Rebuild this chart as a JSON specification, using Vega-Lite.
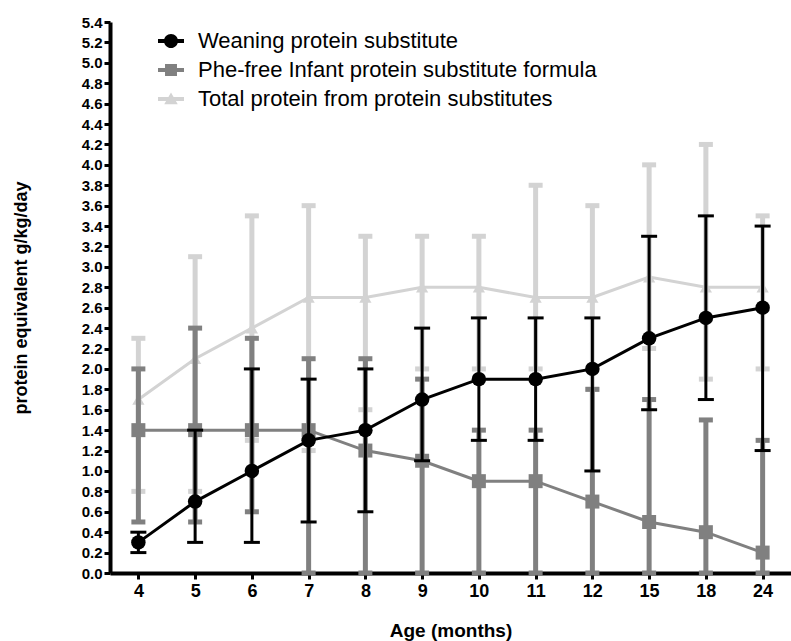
{
  "$schema": "https://vega.github.io/schema/vega-lite/v6.json",
  "width": 681,
  "height": 551,
  "autosize": {"type": "none"},
  "padding": {"left": 110, "top": 22, "right": 0, "bottom": 68},
  "background": "#ffffff",
  "config": {
    "view": {"stroke": null},
    "font": "Liberation Sans",
    "axis": {
      "domainColor": "#000000",
      "domainWidth": 4,
      "tickColor": "#000000",
      "tickWidth": 3,
      "labelColor": "#000000",
      "labelFont": "Liberation Sans",
      "labelFontWeight": "bold",
      "titleFont": "Liberation Sans",
      "titleFontWeight": "bold",
      "titleColor": "#000000",
      "grid": false
    },
    "axisY": {"labelFontSize": 15, "tickSize": 6, "labelPadding": 2, "titleFontSize": 18, "titlePadding": 51},
    "axisX": {"labelFontSize": 18, "tickSize": 6, "labelPadding": 3, "labelAngle": 0, "titleFontSize": 19, "titlePadding": 21}
  },
  "data": {
    "values": [
      {"age": 4, "series": "Total protein from protein substitutes", "m": 1.7, "lo": 0.8, "hi": 2.3},
      {"age": 5, "series": "Total protein from protein substitutes", "m": 2.1, "lo": 0.8, "hi": 3.1},
      {"age": 6, "series": "Total protein from protein substitutes", "m": 2.4, "lo": 1.3, "hi": 3.5},
      {"age": 7, "series": "Total protein from protein substitutes", "m": 2.7, "lo": 1.2, "hi": 3.6},
      {"age": 8, "series": "Total protein from protein substitutes", "m": 2.7, "lo": 1.6, "hi": 3.3},
      {"age": 9, "series": "Total protein from protein substitutes", "m": 2.8, "lo": 2.0, "hi": 3.3},
      {"age": 10, "series": "Total protein from protein substitutes", "m": 2.8, "lo": 2.0, "hi": 3.3},
      {"age": 11, "series": "Total protein from protein substitutes", "m": 2.7, "lo": 2.0, "hi": 3.8},
      {"age": 12, "series": "Total protein from protein substitutes", "m": 2.7, "lo": 1.8, "hi": 3.6},
      {"age": 15, "series": "Total protein from protein substitutes", "m": 2.9, "lo": 2.2, "hi": 4.0},
      {"age": 18, "series": "Total protein from protein substitutes", "m": 2.8, "lo": 1.9, "hi": 4.2},
      {"age": 24, "series": "Total protein from protein substitutes", "m": 2.8, "lo": 2.0, "hi": 3.5},
      {"age": 4, "series": "Phe-free Infant protein substitute formula", "m": 1.4, "lo": 0.5, "hi": 2.0},
      {"age": 5, "series": "Phe-free Infant protein substitute formula", "m": 1.4, "lo": 0.5, "hi": 2.4},
      {"age": 6, "series": "Phe-free Infant protein substitute formula", "m": 1.4, "lo": 0.6, "hi": 2.3},
      {"age": 7, "series": "Phe-free Infant protein substitute formula", "m": 1.4, "lo": 0.0, "hi": 2.1},
      {"age": 8, "series": "Phe-free Infant protein substitute formula", "m": 1.2, "lo": 0.0, "hi": 2.1},
      {"age": 9, "series": "Phe-free Infant protein substitute formula", "m": 1.1, "lo": 0.0, "hi": 1.9},
      {"age": 10, "series": "Phe-free Infant protein substitute formula", "m": 0.9, "lo": 0.0, "hi": 1.4},
      {"age": 11, "series": "Phe-free Infant protein substitute formula", "m": 0.9, "lo": 0.0, "hi": 1.4},
      {"age": 12, "series": "Phe-free Infant protein substitute formula", "m": 0.7, "lo": 0.0, "hi": 1.8},
      {"age": 15, "series": "Phe-free Infant protein substitute formula", "m": 0.5, "lo": 0.0, "hi": 1.7},
      {"age": 18, "series": "Phe-free Infant protein substitute formula", "m": 0.4, "lo": 0.0, "hi": 1.5},
      {"age": 24, "series": "Phe-free Infant protein substitute formula", "m": 0.2, "lo": 0.0, "hi": 1.3},
      {"age": 4, "series": "Weaning protein substitute", "m": 0.3, "lo": 0.2, "hi": 0.4},
      {"age": 5, "series": "Weaning protein substitute", "m": 0.7, "lo": 0.3, "hi": 1.4},
      {"age": 6, "series": "Weaning protein substitute", "m": 1.0, "lo": 0.3, "hi": 2.0},
      {"age": 7, "series": "Weaning protein substitute", "m": 1.3, "lo": 0.5, "hi": 1.9},
      {"age": 8, "series": "Weaning protein substitute", "m": 1.4, "lo": 0.6, "hi": 2.0},
      {"age": 9, "series": "Weaning protein substitute", "m": 1.7, "lo": 1.1, "hi": 2.4},
      {"age": 10, "series": "Weaning protein substitute", "m": 1.9, "lo": 1.3, "hi": 2.5},
      {"age": 11, "series": "Weaning protein substitute", "m": 1.9, "lo": 1.3, "hi": 2.5},
      {"age": 12, "series": "Weaning protein substitute", "m": 2.0, "lo": 1.0, "hi": 2.5},
      {"age": 15, "series": "Weaning protein substitute", "m": 2.3, "lo": 1.6, "hi": 3.3},
      {"age": 18, "series": "Weaning protein substitute", "m": 2.5, "lo": 1.7, "hi": 3.5},
      {"age": 24, "series": "Weaning protein substitute", "m": 2.6, "lo": 1.2, "hi": 3.4}
    ]
  },
  "encoding": {
    "x": {
      "field": "age",
      "type": "ordinal",
      "title": "Age (months)",
      "scale": {"type": "point", "domain": [4, 5, 6, 7, 8, 9, 10, 11, 12, 15, 18, 24], "padding": 0.5}
    }
  },
  "layer": [
    {
      "transform": [{"filter": "datum.series === 'Total protein from protein substitutes'"}],
      "layer": [
        {"mark": {"type": "rule", "color": "#d3d3d3", "strokeWidth": 5},
         "encoding": {"y": {"field": "lo", "type": "quantitative", "title": "protein equivalent g/kg/day",
                            "scale": {"domain": [0, 5.4], "nice": false, "zero": true},
                            "axis": {"values": [0, 0.2, 0.4, 0.6, 0.8, 1.0, 1.2, 1.4, 1.6, 1.8, 2.0, 2.2, 2.4, 2.6, 2.8, 3.0, 3.2, 3.4, 3.6, 3.8, 4.0, 4.2, 4.4, 4.6, 4.8, 5.0, 5.2, 5.4], "tickCount": 30, "format": ".1f", "labelOverlap": false}},
                      "y2": {"field": "hi"}}},
        {"mark": {"type": "tick", "color": "#d3d3d3", "thickness": 5, "size": 14, "opacity": 1},
         "encoding": {"y": {"field": "lo", "type": "quantitative", "title": "protein equivalent g/kg/day"}}},
        {"mark": {"type": "tick", "color": "#d3d3d3", "thickness": 5, "size": 14, "opacity": 1},
         "encoding": {"y": {"field": "hi", "type": "quantitative", "title": "protein equivalent g/kg/day"}}},
        {"mark": {"type": "line", "color": "#d3d3d3", "strokeWidth": 3},
         "encoding": {"y": {"field": "m", "type": "quantitative", "title": "protein equivalent g/kg/day"}}},
        {"mark": {"type": "point", "shape": "triangle-up", "filled": true, "color": "#d3d3d3", "size": 150, "opacity": 1},
         "encoding": {"y": {"field": "m", "type": "quantitative", "title": "protein equivalent g/kg/day"}}}
      ]
    },
    {
      "transform": [{"filter": "datum.series === 'Phe-free Infant protein substitute formula'"}],
      "layer": [
        {"mark": {"type": "rule", "color": "#808080", "strokeWidth": 5},
         "encoding": {"y": {"field": "lo", "type": "quantitative", "title": "protein equivalent g/kg/day"}, "y2": {"field": "hi"}}},
        {"mark": {"type": "tick", "color": "#808080", "thickness": 5, "size": 14, "opacity": 1},
         "encoding": {"y": {"field": "lo", "type": "quantitative", "title": "protein equivalent g/kg/day"}}},
        {"mark": {"type": "tick", "color": "#808080", "thickness": 5, "size": 14, "opacity": 1},
         "encoding": {"y": {"field": "hi", "type": "quantitative", "title": "protein equivalent g/kg/day"}}},
        {"mark": {"type": "line", "color": "#808080", "strokeWidth": 3},
         "encoding": {"y": {"field": "m", "type": "quantitative", "title": "protein equivalent g/kg/day"}}},
        {"mark": {"type": "point", "shape": "square", "filled": true, "color": "#808080", "size": 196, "opacity": 1},
         "encoding": {"y": {"field": "m", "type": "quantitative", "title": "protein equivalent g/kg/day"}}}
      ]
    },
    {
      "transform": [{"filter": "datum.series === 'Weaning protein substitute'"}],
      "layer": [
        {"mark": {"type": "rule", "color": "#000000", "strokeWidth": 3},
         "encoding": {"y": {"field": "lo", "type": "quantitative", "title": "protein equivalent g/kg/day"}, "y2": {"field": "hi"}}},
        {"mark": {"type": "tick", "color": "#000000", "thickness": 3, "size": 16, "opacity": 1},
         "encoding": {"y": {"field": "lo", "type": "quantitative", "title": "protein equivalent g/kg/day"}}},
        {"mark": {"type": "tick", "color": "#000000", "thickness": 3, "size": 16, "opacity": 1},
         "encoding": {"y": {"field": "hi", "type": "quantitative", "title": "protein equivalent g/kg/day"}}},
        {"mark": {"type": "line", "color": "#000000", "strokeWidth": 3},
         "encoding": {"y": {"field": "m", "type": "quantitative", "title": "protein equivalent g/kg/day"}}},
        {"mark": {"type": "point", "shape": "circle", "filled": true, "color": "#000000", "size": 210, "opacity": 1},
         "encoding": {"y": {"field": "m", "type": "quantitative", "title": "protein equivalent g/kg/day"}}}
      ]
    },
    {
      "transform": [{"filter": "false"}],
      "mark": {"type": "point", "filled": true, "opacity": 1},
      "encoding": {
        "y": {"field": "m", "type": "quantitative", "title": "protein equivalent g/kg/day"},
        "color": {"field": "series", "type": "nominal",
                  "scale": {"domain": ["Weaning protein substitute", "Phe-free Infant protein substitute formula", "Total protein from protein substitutes"], "range": ["#000000", "#808080", "#d3d3d3"]},
                  "legend": {"title": null, "orient": "none", "legendX": 47, "legendY": 5, "padding": 0, "symbolSize": 676, "symbolOpacity": 1, "labelFontSize": 22, "labelFont": "Liberation Sans", "labelColor": "#000000", "labelLimit": 0, "rowPadding": 4, "labelOffset": 13}},
        "shape": {"field": "series", "type": "nominal",
                  "scale": {"domain": ["Weaning protein substitute", "Phe-free Infant protein substitute formula", "Total protein from protein substitutes"],
                            "range": ["M-1,-0.15H1V0.15H-1Z M0.54,0A0.54,0.54 0 1,1 -0.54,0A0.54,0.54 0 1,1 0.54,0Z", "M-1,-0.15H1V0.15H-1Z M-0.46,-0.46H0.46V0.46H-0.46Z", "M-1,-0.15H1V0.15H-1Z M0,-0.5L0.52,0.4H-0.52Z"]},
                  "legend": {"title": null, "orient": "none", "legendX": 47, "legendY": 5, "padding": 0, "symbolSize": 676, "symbolOpacity": 1, "labelFontSize": 22, "labelFont": "Liberation Sans", "labelColor": "#000000", "labelLimit": 0, "rowPadding": 4, "labelOffset": 13}}
      }
    }
  ]
}
